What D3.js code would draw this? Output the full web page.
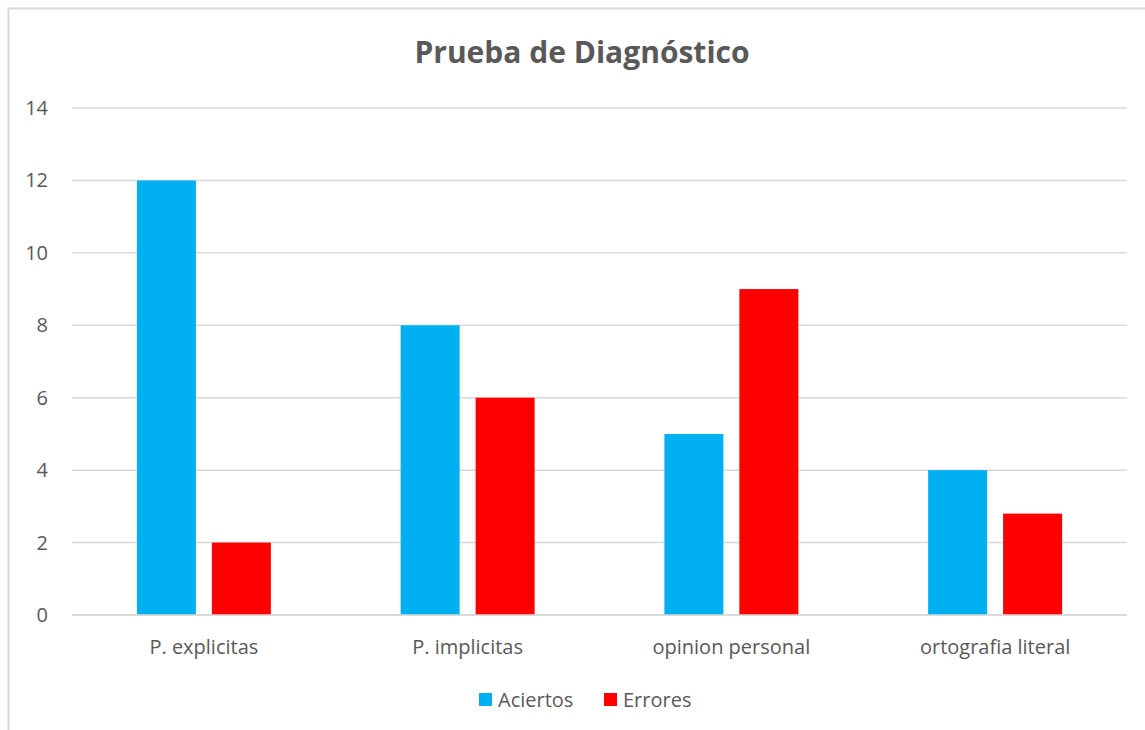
<!DOCTYPE html>
<html>
<head>
<meta charset="utf-8">
<script src="https://cdn.jsdelivr.net/npm/d3@7"></script>
<style>
  body { margin: 0; background: #fff; }
  text { font-family: "Open Sans", sans-serif; fill: #595959; }
</style>
</head>
<body>
<div id="chart"></div>
<script>
var categories = ["P. explicitas", "P. implicitas", "opinion personal", "ortografia literal"];
var series = ["Aciertos", "Errores"];
var aciertos = [12, 8, 5, 4];
var errores = [2, 6, 9, 2.8];
var yTicks = [0, 2, 4, 6, 8, 10, 12, 14];
var colors = ["#00B0F0", "#FF0000"];

var width = 1145,
    height = 730;

var svg = d3.select("#chart")
  .append("svg")
  .attr("width", width)
  .attr("height", height);

// chart area border (runs off the right and bottom edge)
svg.append("rect")
  .attr("x", 8.5)
  .attr("y", 8.5)
  .attr("width", 1160)
  .attr("height", 760)
  .attr("fill", "none")
  .attr("stroke", "#D9D9D9")
  .attr("stroke-width", 2);

var rows = categories.map(function(c, i){
  return { cat: c, values: [aciertos[i], errores[i]] };
});

var x0 = d3.scaleBand()
  .domain(categories)
  .range([72, 1127])
  .paddingInner(0.492)
  .paddingOuter(0.246);

var x1 = d3.scaleBand()
  .domain(series)
  .range([0, x0.bandwidth()])
  .paddingInner(0.213);

var y = d3.scaleLinear()
  .domain([0, 14])
  .range([615, 108]);

// gridlines
svg.append("g")
  .selectAll("line")
  .data(yTicks)
  .enter()
  .append("line")
  .attr("x1", 72)
  .attr("x2", 1127)
  .attr("y1", function(d){ return y(d) })
  .attr("y2", function(d){ return y(d) })
  .attr("stroke", "#D9D9D9")
  .attr("stroke-width", 1.5);

// y labels
svg.append("g")
  .selectAll("text")
  .data(yTicks)
  .enter()
  .append("text")
  .attr("x", 48)
  .attr("y", function(d){ return y(d) })
  .attr("dy", "0.35em")
  .attr("text-anchor", "end")
  .style("font-size", "20px")
  .text(function(d){ return d });

// bars
var groups = svg.append("g")
  .selectAll("g")
  .data(rows)
  .enter()
  .append("g")
  .attr("transform", function(d){ return "translate(" + x0(d.cat) + ",0)" });

groups.selectAll("rect")
  .data(function(d){ return d.values.map(function(v, i){ return { key: series[i], value: v, i: i } }) })
  .enter()
  .append("rect")
  .attr("x", function(d){ return x1(d.key) })
  .attr("width", x1.bandwidth())
  .attr("y", function(d){ return y(d.value) })
  .attr("height", function(d){ return y(0) - y(d.value) })
  .attr("fill", function(d){ return colors[d.i] });

// baseline on top of bars
svg.append("line")
  .attr("x1", 72)
  .attr("x2", 1127)
  .attr("y1", y(0))
  .attr("y2", y(0))
  .attr("stroke", "#D9D9D9")
  .attr("stroke-width", 1.5);

// category labels
svg.append("g")
  .selectAll("text")
  .data(categories)
  .enter()
  .append("text")
  .attr("x", function(d){ return x0(d) + x0.bandwidth() / 2 })
  .attr("y", 647)
  .attr("dy", "0.35em")
  .attr("text-anchor", "middle")
  .style("font-size", "20px")
  .text(function(d){ return d });

// title
svg.append("text")
  .attr("x", 582)
  .attr("y", 52)
  .attr("dy", "0.35em")
  .attr("text-anchor", "middle")
  .style("font-size", "30px")
  .style("font-weight", "bold")
  .text("Prueba de Diagnóstico");

// legend
var legendX = [479, 604];
var legend = svg.append("g")
  .selectAll("g")
  .data(series)
  .enter()
  .append("g")
  .attr("transform", function(d, i){ return "translate(" + legendX[i] + ",693)" });

legend.append("rect")
  .attr("width", 13)
  .attr("height", 13)
  .attr("fill", function(d, i){ return colors[i] });

legend.append("text")
  .attr("x", 19)
  .attr("y", 7)
  .attr("dy", "0.35em")
  .style("font-size", "20px")
  .text(function(d){ return d });
</script>
</body>
</html>
